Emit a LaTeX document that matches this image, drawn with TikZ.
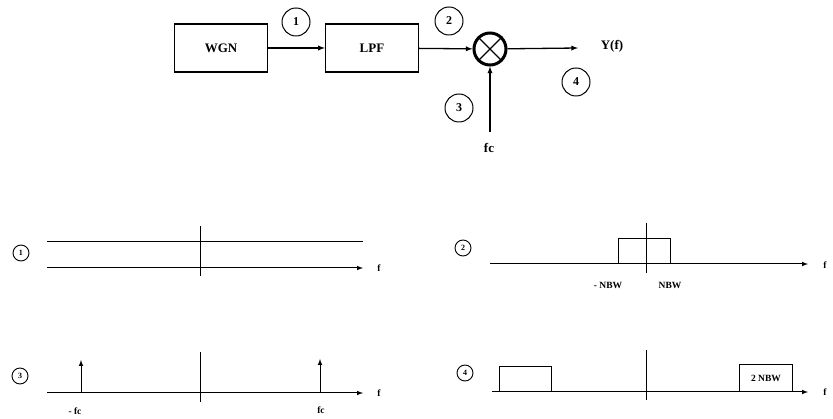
\documentclass[tikz,border=0pt]{standalone}
\usepackage{fontspec}
\setmainfont{Liberation Serif}
\usetikzlibrary{arrows}

\begin{document}
\begin{tikzpicture}[x=1pt,y=-1pt]
    \tikzset{block/.style = {shape=rectangle, draw, line width=1.3pt, minimum width=93pt, minimum height=48pt, font=\fontsize{13}{15}\selectfont\bfseries}}
    \tikzset{tag/.style = {shape=circle, draw, line width=1pt, minimum size=28pt, inner sep=0pt, font=\fontsize{12}{14}\selectfont\bfseries}}
    \tikzset{smalltag/.style = {shape=circle, draw, line width=0.9pt, minimum size=16pt, inner sep=0pt, font=\fontsize{8}{9}\selectfont\bfseries}}
    \tikzset{edge/.style = {draw, line width=1.3pt, -latex}}
    \tikzset{axis/.style = {draw, line width=1pt, -latex}}
    \tikzset{lbl/.style = {font=\fontsize{9.5}{11}\selectfont\bfseries}}

    \useasboundingbox (0,0) rectangle (833,419);

    % vertices
    \node[block] (wgn) at (221,48) {WGN};
    \node[block] (lpf) at (372,48) {LPF};
    \node[shape=circle, draw, line width=3pt, minimum size=32pt, inner sep=0pt] (mix) at (490,49) {};
    \node[tag] (t1) at (296,22) {1};
    \node[tag] (t2) at (449,21) {2};
    \node[tag] (t3) at (459,108) {3};
    \node[tag] (t4) at (576,82) {4};
    \node[font=\fontsize{13}{15}\selectfont\bfseries] (yf) at (612,46) {Y(f)};
    \node[font=\fontsize{13}{15}\selectfont\bfseries] (fc) at (489,148) {fc};
    \coordinate (yend) at (578,48);
    \coordinate (fcstart) at (490,132);

    % edges
    \draw [edge] (wgn) -- (lpf);
    \draw [edge] (lpf) -- (mix);
    \draw [edge] (mix) -- (yend);
    \draw [edge] (fcstart) -- (mix);
    \draw [line width=1.3pt] (mix.north west) -- (mix.south east);
    \draw [line width=1.3pt] (mix.north east) -- (mix.south west);

    % spectrum 1
    \node[smalltag] (s1) at (21,253) {1};
    \draw [line width=1pt] (47,242) -- (363,242);
    \draw [axis] (47,268) -- (363,268);
    \draw [line width=0.8pt] (200,226) -- (200,276);
    \node[lbl] (f1) at (379,268) {f};

    % spectrum 2
    \node[smalltag] (s2) at (463,248) {2};
    \draw [axis] (490,264) -- (808,264);
    \draw [line width=1pt] (618,264) -- (618,239) -- (670,239) -- (670,264);
    \draw [line width=0.8pt] (646,223) -- (646,273);
    \node[lbl] (nb1) at (608,285) {- NBW};
    \node[lbl] (nb2) at (670,285) {NBW};
    \node[lbl] (f2) at (825,265) {f};

    % spectrum 3
    \node[smalltag] (s3) at (20,376) {3};
    \draw [axis] (47,393) -- (363,393);
    \draw [line width=0.8pt] (200,352) -- (200,402);
    \draw [line width=1pt, -latex] (81,393) -- (81,360);
    \draw [line width=1pt, -latex] (320,393) -- (320,359);
    \node[lbl] (fc1) at (75,411) {- fc};
    \node[lbl] (fc2) at (321,410) {fc};
    \node[lbl] (f3) at (379,393) {f};

    % spectrum 4
    \node[smalltag] (s4) at (465,373) {4};
    \draw [axis] (492,392) -- (808,392);
    \draw [line width=1pt] (499,392) -- (499,367) -- (551,367) -- (551,392);
    \draw [line width=1pt] (739,392) -- (739,365) -- (792,365) -- (792,392);
    \draw [line width=0.8pt] (646,350) -- (646,400);
    \node[lbl] (nb3) at (766,378) {2 NBW};
    \node[lbl] (f4) at (825,392) {f};
\end{tikzpicture}
\end{document}
